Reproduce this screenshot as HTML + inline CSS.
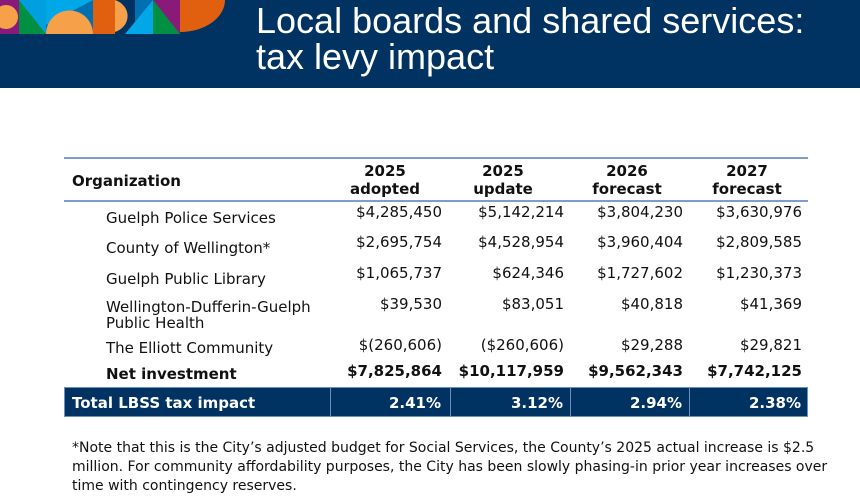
<!DOCTYPE html>
<html><head><meta charset="utf-8"><style>
*{margin:0;padding:0;box-sizing:border-box}
body{width:860px;height:504px;background:#fff;position:relative;overflow:hidden;font-family:"DejaVu Sans","Liberation Sans",sans-serif;color:#111}
.hdr{position:absolute;left:0;top:0;width:860px;height:88px;background:#003262}
.title{position:absolute;left:256px;top:3px;color:#fff;font-family:"Liberation Sans",sans-serif;font-size:36px;line-height:36px}
.t{position:absolute;font-size:15px;white-space:nowrap;line-height:18px}
.r{text-align:right}
.b{font-weight:bold}
.c{text-align:center}
.line{position:absolute;left:64px;width:744px;height:2px;background:#7f9bd0}
.tot{position:absolute;left:64px;top:387px;width:744px;height:30px;background:#003262;border:1px solid #6d8fc0}
.vd{position:absolute;top:0;width:1px;height:28px;background:#6d8fc0}
.w{color:#fff}
.note{position:absolute;left:72px;top:439px;width:760px;font-size:14px;line-height:19px}
</style></head><body>
<div class="hdr">
<svg width="230" height="34" style="position:absolute;left:0;top:0">
<rect x="0" y="0" width="19" height="34" fill="#8a1a7a"/>
<circle cx="6" cy="17" r="12" fill="#f7a04a"/>
<rect x="19" y="0" width="27" height="34" fill="#00a0e0"/>
<polygon points="19,0 46,34 19,34" fill="#009044"/>
<rect x="46" y="0" width="47" height="34" fill="#0070b0"/>
<polygon points="46,0 93,0 46,25" fill="#00a8e8"/>
<path d="M46 34 A23 23 0 0 1 93 34 Z" fill="#f7a04a"/>
<rect x="93" y="0" width="22" height="34" fill="#e06010"/>
<path d="M115 0 A19 17 0 0 1 115 32 Z" fill="#f7a04a"/>
<rect x="135" y="0" width="18" height="34" fill="#0070b0"/>
<polygon points="125,34 153,0 153,34" fill="#00a8e8"/>
<rect x="153" y="0" width="27" height="34" fill="#8a1a7a"/>
<polygon points="153,0 180,34 153,34" fill="#009044"/>
<path d="M180 0 L225 0 A45 32 0 0 1 180 32 Z" fill="#e06010"/>
</svg>
<div class="title">Local boards and shared services:<br>tax levy impact</div>
</div>
<div class="line" style="top:157px"></div>
<div class="line" style="top:200px"></div>
<div class="t b" style="left:72px;top:172px">Organization</div>
<div class="t b c" style="left:330px;width:110px;top:162px">2025<br>adopted</div>
<div class="t b c" style="left:448px;width:110px;top:162px">2025<br>update</div>
<div class="t b c" style="left:572px;width:110px;top:162px">2026<br>forecast</div>
<div class="t b c" style="left:692px;width:110px;top:162px">2027<br>forecast</div>

<div class="t" style="left:106px;top:209px">Guelph Police Services</div>
<div class="t" style="left:106px;top:239px">County of Wellington*</div>
<div class="t" style="left:106px;top:270px">Guelph Public Library</div>
<div class="t" style="left:106px;top:299px;line-height:16px">Wellington-Dufferin-Guelph<br>Public Health</div>
<div class="t" style="left:106px;top:339px">The Elliott Community</div>
<div class="t b" style="left:106px;top:365px">Net investment</div>

<div class="t r" style="left:300px;width:142px;top:203px">$4,285,450</div>
<div class="t r" style="left:300px;width:142px;top:233px">$2,695,754</div>
<div class="t r" style="left:300px;width:142px;top:264px">$1,065,737</div>
<div class="t r" style="left:300px;width:142px;top:295px">$39,530</div>
<div class="t r" style="left:300px;width:142px;top:336px">$(260,606)</div>
<div class="t r b" style="left:300px;width:142px;top:362px">$7,825,864</div>

<div class="t r" style="left:420px;width:144px;top:203px">$5,142,214</div>
<div class="t r" style="left:420px;width:144px;top:233px">$4,528,954</div>
<div class="t r" style="left:420px;width:144px;top:264px">$624,346</div>
<div class="t r" style="left:420px;width:144px;top:295px">$83,051</div>
<div class="t r" style="left:420px;width:144px;top:336px">($260,606)</div>
<div class="t r b" style="left:420px;width:144px;top:362px">$10,117,959</div>

<div class="t r" style="left:540px;width:143px;top:203px">$3,804,230</div>
<div class="t r" style="left:540px;width:143px;top:233px">$3,960,404</div>
<div class="t r" style="left:540px;width:143px;top:264px">$1,727,602</div>
<div class="t r" style="left:540px;width:143px;top:295px">$40,818</div>
<div class="t r" style="left:540px;width:143px;top:336px">$29,288</div>
<div class="t r b" style="left:540px;width:143px;top:362px">$9,562,343</div>

<div class="t r" style="left:660px;width:142px;top:203px">$3,630,976</div>
<div class="t r" style="left:660px;width:142px;top:233px">$2,809,585</div>
<div class="t r" style="left:660px;width:142px;top:264px">$1,230,373</div>
<div class="t r" style="left:660px;width:142px;top:295px">$41,369</div>
<div class="t r" style="left:660px;width:142px;top:336px">$29,821</div>
<div class="t r b" style="left:660px;width:142px;top:362px">$7,742,125</div>

<div class="tot">
<div class="vd" style="left:265px"></div><div class="vd" style="left:385px"></div><div class="vd" style="left:505px"></div><div class="vd" style="left:624px"></div>
</div>
<div class="t b w" style="left:72px;top:394px">Total LBSS tax impact</div>
<div class="t b w r" style="left:330px;width:111px;top:394px">2.41%</div>
<div class="t b w r" style="left:450px;width:113px;top:394px">3.12%</div>
<div class="t b w r" style="left:570px;width:112px;top:394px">2.94%</div>
<div class="t b w r" style="left:690px;width:111px;top:394px">2.38%</div>

<div class="note">*Note that this is the City’s adjusted budget for Social Services, the County’s 2025 actual increase is $2.5 million. For community affordability purposes, the City has been slowly phasing-in prior year increases over time with contingency reserves.</div>
</body></html>
